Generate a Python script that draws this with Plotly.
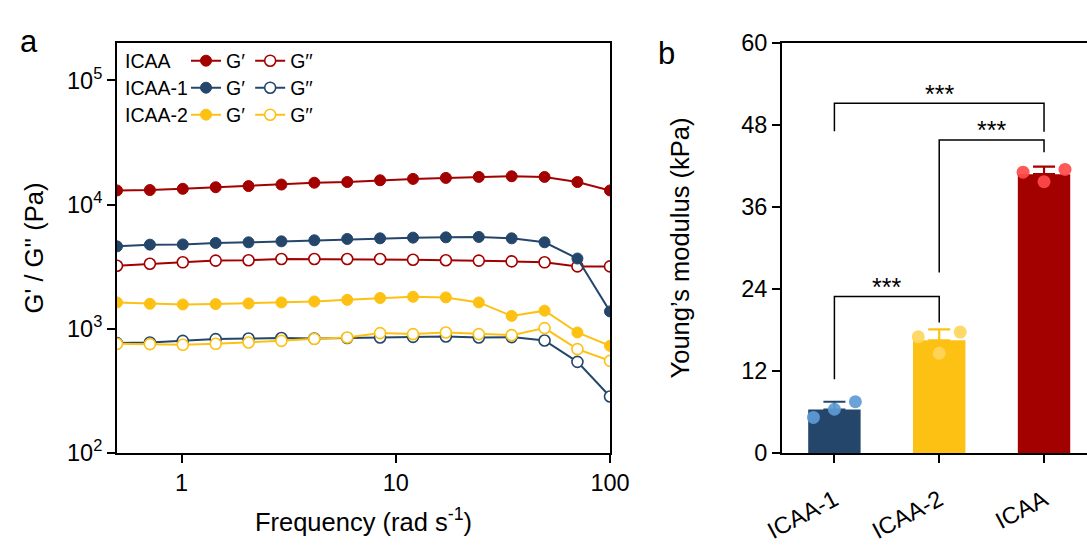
import plotly.graph_objects as go
import math

# ---------------- data: panel a (frequency sweep) ----------------
freq = [0.5, 0.712, 1.014, 1.444, 2.056, 2.927, 4.169, 5.936, 8.452, 12.04, 17.14, 24.41, 34.75, 49.49, 70.47, 100.0]
icaa_gp = [13000, 13100, 13400, 13800, 14100, 14500, 15000, 15200, 15700, 16100, 16400, 16700, 16900, 16700, 15200, 13000]
icaa_gpp = [3220, 3340, 3430, 3540, 3560, 3650, 3650, 3650, 3650, 3600, 3560, 3540, 3490, 3430, 3180, 3180]
icaa1_gp = [4610, 4760, 4780, 4910, 4970, 5060, 5160, 5290, 5350, 5420, 5450, 5490, 5350, 4970, 3680, 1380]
icaa1_gpp = [767, 776, 800, 826, 835, 842, 835, 842, 851, 861, 867, 851, 857, 805, 542, 285]
icaa2_gp = [1630, 1590, 1570, 1580, 1600, 1630, 1660, 1710, 1770, 1810, 1790, 1630, 1270, 1400, 934, 729]
icaa2_gpp = [757, 753, 743, 757, 776, 800, 830, 851, 923, 906, 933, 906, 889, 1013, 686, 552]
x_ticks = [1, 10, 100]
y_ticks = [100, 1000, 10000, 100000]
y_ticktext = ["10<sup>2</sup>", "10<sup>3</sup>", "10<sup>4</sup>", "10<sup>5</sup>"]

# ---------------- data: panel b (Young's modulus) ----------------
groups = ["ICAA-1", "ICAA-2", "ICAA"]
modulus_mean = [6.35, 16.5, 40.8]
modulus_err = [1.15, 1.6, 1.1]
modulus_points = [[5.2, 6.4, 7.5], [17.0, 14.6, 17.7], [41.1, 39.7, 41.5]]
b_ticks = [0, 12, 24, 36, 48, 60]
sig_pairs = [(0, 1), (1, 2), (0, 2)]
sig_level = [22.9, 45.8, 51.2]
sig_left_end = [10.8, 26.4, 47.1]
sig_right_end = [19.1, 44.0, 47.0]
sig_text = ["***", "***", "***"]

# ---------------- styling ----------------
FONT = "Liberation Sans, Arial, sans-serif"
RED, NAVY, YEL = "#A30000", "#24466B", "#FDC114"
PT_COLORS = ["#5E9BD5", "#FFD65A", "#FF4A4A"]
BAR_COLORS = [NAVY, YEL, RED]

W, H = 1087, 546
def px_x(p):
    return p / W
def px_y(p):
    return 1 - p / H

fig = go.Figure()

series = [
    ("ICAA", icaa_gp, icaa_gpp, RED, "legend"),
    ("ICAA-1", icaa1_gp, icaa1_gpp, NAVY, "legend2"),
    ("ICAA-2", icaa2_gp, icaa2_gpp, YEL, "legend3"),
]
for name, gp, gpp, col, lg in series:
    fig.add_trace(go.Scatter(
        x=freq, y=gp, mode="lines+markers", name="G\u2032", legend=lg,
        line=dict(color=col, width=2),
        marker=dict(color=col, size=11, line=dict(color=col, width=1)),
        xaxis="x", yaxis="y"))
    fig.add_trace(go.Scatter(
        x=freq, y=gpp, mode="lines+markers", name="G\u2032\u2032", legend=lg,
        line=dict(color=col, width=2),
        marker=dict(color="white", size=11, line=dict(color=col, width=1.6)),
        xaxis="x", yaxis="y"))

# panel b bars, error bars and points
offsets = [-0.2, 0.0, 0.2]
for i, g in enumerate(groups):
    fig.add_trace(go.Bar(
        x=[i], y=[modulus_mean[i]], width=0.5, marker=dict(color=BAR_COLORS[i], line=dict(width=0)),
        error_y=dict(type="data", array=[modulus_err[i]], arrayminus=[0], symmetric=False,
                     color=BAR_COLORS[i], thickness=2.2, width=11),
        showlegend=False, xaxis="x2", yaxis="y2"))
for i, g in enumerate(groups):
    fig.add_trace(go.Scatter(
        x=[i + o for o in offsets], y=modulus_points[i], mode="markers",
        marker=dict(color=PT_COLORS[i], size=13, opacity=0.92),
        showlegend=False, xaxis="x2", yaxis="y2"))

shapes = []
annotations = []
for k, (a, b) in enumerate(sig_pairs):
    shapes.append(dict(type="path", xref="x2", yref="y2",
                       path=f"M {a},{sig_left_end[k]} L {a},{sig_level[k]} L {b},{sig_level[k]} L {b},{sig_right_end[k]}",
                       line=dict(color="black", width=1.5)))
    annotations.append(dict(x=(a + b) / 2, y=sig_level[k] + 1.4, xref="x2", yref="y2",
                            text=sig_text[k], showarrow=False, yanchor="middle",
                            font=dict(family=FONT, size=25, color="black")))

# row labels of the custom legend
for name, yy in [("ICAA", 61), ("ICAA-1", 88), ("ICAA-2", 115)]:
    annotations.append(dict(x=px_x(123), y=px_y(yy), xref="paper", yref="paper", text=name,
                            showarrow=False, xanchor="left", yanchor="middle",
                            font=dict(family=FONT, size=19.5, color="black")))
# panel letters
annotations.append(dict(x=px_x(18), y=px_y(22), xref="paper", yref="paper", text="a", showarrow=False,
                        font=dict(family=FONT, size=31, color="black")))
annotations.append(dict(x=px_x(666), y=px_y(34), xref="paper", yref="paper", text="b", showarrow=False,
                        font=dict(family=FONT, size=31, color="black")))

axis_common = dict(showline=True, linecolor="black", linewidth=2, ticks="outside", ticklen=8,
                   tickwidth=2, tickcolor="black", showgrid=False, zeroline=False, automargin=False,
                   tickfont=dict(family=FONT, size=23.5, color="black"))

leg_common = dict(orientation="h", xanchor="left", yanchor="middle", bgcolor="rgba(0,0,0,0)",
                  itemwidth=30, font=dict(family=FONT, size=19.5, color="black"), tracegroupgap=0,
                  itemclick=False)

fig.update_layout(
    width=W, height=H, margin=dict(l=0, r=0, t=0, b=0),
    paper_bgcolor="white", plot_bgcolor="white",
    font=dict(family=FONT, color="black"),
    barmode="overlay", showlegend=True,
    legend=dict(x=px_x(186), y=px_y(61), **leg_common),
    legend2=dict(x=px_x(186), y=px_y(88), **leg_common),
    legend3=dict(x=px_x(186), y=px_y(115), **leg_common),
    xaxis=dict(domain=[px_x(117), px_x(610)], type="log", range=[math.log10(0.5), 2],
               tickvals=x_ticks, ticktext=[str(v) for v in x_ticks], mirror=True,
               title=dict(text="Frequency (rad s<sup>-1</sup>)", standoff=18,
                          font=dict(family=FONT, size=25.5, color="black")),
               anchor="y", **axis_common),
    yaxis=dict(domain=[px_y(453), px_y(43)], type="log", range=[2, math.log10(2e5)],
               tickvals=y_ticks, ticktext=y_ticktext, mirror=True,
               title=dict(text="G' / G'' (Pa)", standoff=16,
                          font=dict(family=FONT, size=25.5, color="black")),
               anchor="x", **axis_common),
    xaxis2=dict(domain=[px_x(782), 1], range=[-0.5, 2.41], tickvals=[0, 1, 2], ticktext=groups,
                tickangle=-28, mirror=True, ticklabelstandoff=14, anchor="y2", **axis_common),
    yaxis2=dict(domain=[px_y(453), px_y(43)], range=[0, 60], tickvals=b_ticks, mirror=False,
                title=dict(text="Young\u2019s modulus (kPa)", standoff=44,
                           font=dict(family=FONT, size=25.5, color="black")),
                anchor="x2", **axis_common),
    shapes=shapes, annotations=annotations,
)

fig.write_html("out.html")
